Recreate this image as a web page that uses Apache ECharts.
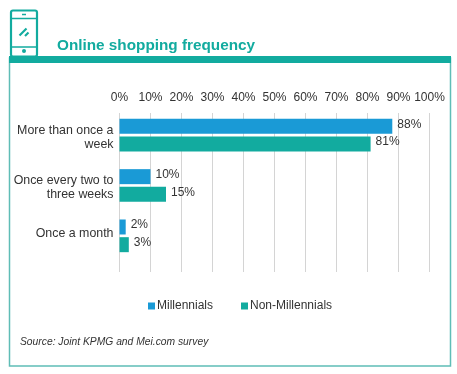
<!DOCTYPE html>
<html>
<head>
<meta charset="utf-8">
<script src="https://cdn.jsdelivr.net/npm/echarts@6/dist/echarts.min.js"></script>
<style>
  html, body { margin: 0; padding: 0; background: #fff; }
  #chart { width: 457px; height: 374px; }
</style>
</head>
<body>
<div id="chart"></div>
<script>
var categories = ['More than once a\nweek', 'Once every two to\nthree weeks', 'Once a month'];
var millennials = [88, 10, 2];
var nonMillennials = [81, 15, 3];
var seriesNames = ['Millennials', 'Non-Millennials'];
var titleText = 'Online shopping frequency';
var sourceText = 'Source: Joint KPMG and Mei.com survey';

var TEAL = '#12ab9f';
var BLUE = '#1a9ad6';
var FONT = '"Liberation Sans", Arial, sans-serif';

var chart = echarts.init(document.getElementById('chart'), null, { renderer: 'canvas' });

function barSeries(name, data, color) {
    return {
        name: name,
        type: 'bar',
        xAxisIndex: 1,
        yAxisIndex: 0,
        data: data,
        barWidth: 15,
        barGap: '18%',
        z: 3,
        itemStyle: { color: color },
        label: {
            show: true,
            position: 'right',
            distance: 5,
            offset: [0, -2],
            formatter: '{c}%',
            fontFamily: FONT,
            fontSize: 12,
            color: '#333'
        }
    };
}

// spacer line nudges two-line labels down, the last one up
function categoryLabel(name, i) {
    var lines = name.split('\n').map(function (line) {
        return '{a|' + line + '}';
    }).join('\n');
    return i < 2 ? '{s|}\n' + lines : lines + '\n{s|}';
}

chart.setOption({
    animation: false,
    title: {
        text: titleText,
        left: 57,
        top: 38,
        padding: 0,
        textStyle: { color: TEAL, fontFamily: FONT, fontSize: 15.3, fontWeight: 'bold' }
    },
    legend: {
        data: seriesNames,
        left: 148,
        top: 300,
        padding: 0,
        icon: 'rect',
        itemWidth: 7,
        itemHeight: 7,
        itemGap: 28,
        textStyle: { fontFamily: FONT, fontSize: 12, color: '#333', padding: [0, 0, 0, -3] }
    },
    grid: [
        // gridlines + % axis
        { left: 119.5, right: 27.5, top: 113, height: 159 },
        // bars
        { left: 119.5, right: 27.5, top: 110, height: 151 }
    ],
    xAxis: [
        {
            type: 'value',
            gridIndex: 0,
            position: 'top',
            min: 0,
            max: 100,
            interval: 10,
            axisLine: { show: false },
            axisTick: { show: false },
            splitLine: { show: true, lineStyle: { color: '#d4d4d4', width: 1 } },
            axisLabel: {
                margin: 9,
                formatter: '{value}%',
                fontFamily: FONT,
                fontSize: 12,
                color: '#333'
            }
        },
        {
            type: 'value',
            gridIndex: 1,
            min: 0,
            max: 100,
            show: false
        }
    ],
    yAxis: [
        {
            type: 'category',
            gridIndex: 1,
            inverse: true,
            data: categories,
            axisLine: { show: false },
            axisTick: { show: false },
            axisLabel: {
                margin: 6,
                align: 'right',
                formatter: categoryLabel,
                rich: {
                    a: { fontFamily: FONT, fontSize: 12.4, lineHeight: 14, color: '#333', align: 'right' },
                    s: { fontSize: 4, lineHeight: 4, height: 4 }
                }
            }
        },
        {
            type: 'category',
            gridIndex: 0,
            show: false,
            data: categories
        }
    ],
    series: [
        barSeries(seriesNames[0], millennials, BLUE),
        barSeries(seriesNames[1], nonMillennials, TEAL)
    ],
    graphic: [
        // panel frame and header band
        { type: 'rect', shape: { x: 9.5, y: 58, width: 441, height: 308 }, style: { fill: 'none', stroke: '#5fbdb6', lineWidth: 1.5 }, z: 0 },
        { type: 'rect', shape: { x: 9, y: 56, width: 442, height: 7 }, style: { fill: TEAL }, z: 1 },
        // phone icon
        { type: 'rect', shape: { x: 11, y: 10.5, width: 26, height: 46, r: 2 }, style: { fill: 'none', stroke: TEAL, lineWidth: 2.2 }, z: 1 },
        { type: 'line', shape: { x1: 11, y1: 18.5, x2: 37, y2: 18.5 }, style: { stroke: TEAL, lineWidth: 1.5 }, z: 1 },
        { type: 'line', shape: { x1: 11, y1: 47, x2: 37, y2: 47 }, style: { stroke: TEAL, lineWidth: 1.5 }, z: 1 },
        { type: 'line', shape: { x1: 22, y1: 14.5, x2: 26, y2: 14.5 }, style: { stroke: TEAL, lineWidth: 1.5 }, z: 1 },
        { type: 'circle', shape: { cx: 24, cy: 51, r: 2 }, style: { fill: TEAL }, z: 1 },
        { type: 'polyline', shape: { points: [[19.5, 35.5], [26.5, 28.5]] }, style: { stroke: TEAL, fill: 'none', lineWidth: 2.2 }, z: 1 },
        { type: 'polyline', shape: { points: [[25, 36], [28.5, 32.5]] }, style: { stroke: TEAL, fill: 'none', lineWidth: 2.2 }, z: 1 },
        // source note
        {
            type: 'text',
            left: 20,
            top: 337,
            style: {
                text: sourceText,
                fill: '#333',
                font: 'italic 10.3px ' + FONT
            }
        }
    ]
});
</script>
</body>
</html>
